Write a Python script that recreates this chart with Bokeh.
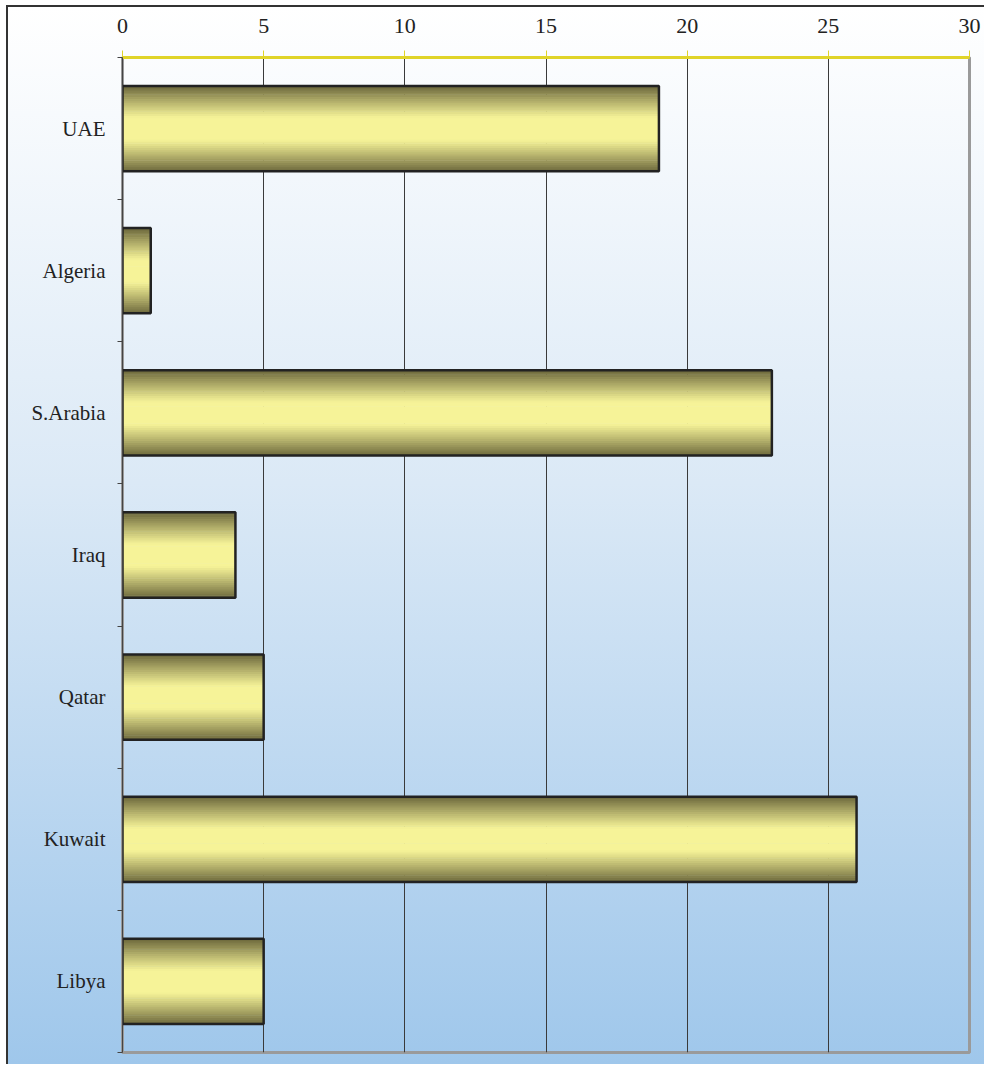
from bokeh.plotting import figure
from bokeh.models import FixedTicker, ColumnDataSource, Range1d
from bokeh.embed import file_html
from bokeh.resources import INLINE

countries = ["UAE", "Algeria", "S.Arabia", "Iraq", "Qatar", "Kuwait", "Libya"]
values = [19, 1, 23, 4, 5, 26, 5]
x_ticks = [0, 5, 10, 15, 20, 25, 30]

n = len(countries)
centers = [n - i - 0.5 for i in range(n)]
boundaries = list(range(n + 1))

FONT = "Liberation Serif"

p = figure(width=978, height=1059,
           x_range=Range1d(0, 30), y_range=Range1d(0, n),
           x_axis_location="above",
           output_backend="svg", toolbar_location=None,
           min_border_left=114, min_border_right=17,
           min_border_top=50, min_border_bottom=14)

p.background_fill_color = None
p.border_fill_color = None
p.styles = {
    "background-image": "linear-gradient(to bottom, #ffffff 0%, #dbe9f6 45%, #9fc7eb 100%)",
    "border-left": "2px solid #333333",
    "border-top": "2px solid #333333",
    "margin-left": "6px",
    "margin-top": "5px",
}

# gradient bars built from horizontal strips
light = (246, 243, 152)
dark = (108, 104, 60)
N = 40
bar_h = 0.6
ys, rights, cols = [], [], []
for c, v in zip(centers, values):
    for k in range(N):
        t = (k + 0.5) / N
        d = abs(t - 0.5) * 2
        s = max(0.0, min(1.0, (d - 0.25) / 0.75)) ** 1.1
        col = tuple(int(round(light[j] * (1 - s) + dark[j] * s)) for j in range(3))
        ys.append(c - bar_h / 2 + t * bar_h)
        rights.append(v)
        cols.append("#%02x%02x%02x" % col)
strips = ColumnDataSource(dict(y=ys, right=rights, color=cols))
p.hbar(y="y", left=0, right="right", height=bar_h / N * 1.3,
       fill_color="color", line_color=None, source=strips)

p.hbar(y=centers, left=0, right=values, height=bar_h,
       fill_color=None, line_color="#222222", line_width=2.5)

# x axis on top
p.xaxis.ticker = FixedTicker(ticks=x_ticks)
p.xaxis.axis_line_color = "#e0d42a"
p.xaxis.axis_line_width = 3
p.xaxis.major_tick_line_color = "#e0d42a"
p.xaxis.major_tick_line_width = 1
p.xaxis.major_tick_out = 7
p.xaxis.major_tick_in = 0
p.xaxis.minor_tick_line_color = None
p.xaxis.major_label_text_font = FONT
p.xaxis.major_label_text_font_size = "22px"
p.xaxis.major_label_text_color = "#222222"
p.xaxis.major_label_standoff = 18

# y axis
p.yaxis.ticker = FixedTicker(ticks=centers, minor_ticks=boundaries)
p.yaxis.major_label_overrides = {c: name for c, name in zip(centers, countries)}
p.yaxis.major_tick_line_color = None
p.yaxis.major_tick_out = 0
p.yaxis.major_tick_in = 0
p.yaxis.minor_tick_line_color = "#444444"
p.yaxis.minor_tick_out = 5
p.yaxis.minor_tick_in = 0
p.yaxis.axis_line_color = "#444444"
p.yaxis.axis_line_width = 1
p.yaxis.major_label_text_font = FONT
p.yaxis.major_label_text_font_size = "21px"
p.yaxis.major_label_text_color = "#222222"
p.yaxis.major_label_standoff = 12

p.ygrid.grid_line_color = None
p.xgrid.ticker = FixedTicker(ticks=x_ticks[1:-1])
p.xgrid.grid_line_color = "#3a3a3a"
p.xgrid.grid_line_width = 1

p.outline_line_color = "#9a9a9a"
p.outline_line_width = 3

open("out.html", "w").write(file_html(p, INLINE))
